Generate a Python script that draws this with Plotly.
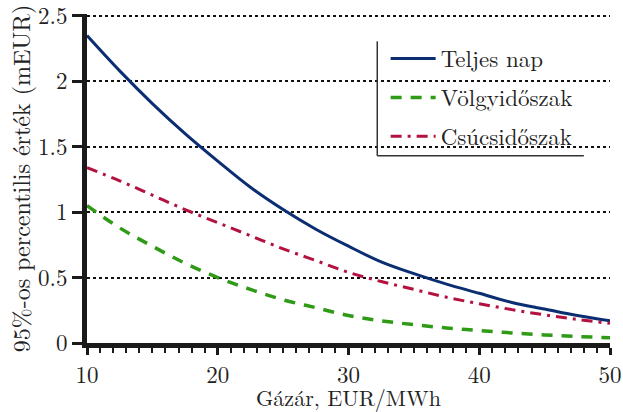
import plotly.graph_objects as go

x_vals = [10, 12.5, 15, 17.5, 20, 22.5, 25, 27.5, 30, 32.5, 35, 37.5, 40, 42.5, 45, 47.5, 50]
teljes_nap = [2.35, 2.08, 1.83, 1.60, 1.39, 1.19, 1.02, 0.87, 0.74, 0.62, 0.53, 0.45, 0.38, 0.31, 0.26, 0.21, 0.17]
volgy = [1.05, 0.88, 0.74, 0.61, 0.50, 0.41, 0.33, 0.27, 0.21, 0.17, 0.14, 0.115, 0.095, 0.077, 0.062, 0.05, 0.04]
csucs = [1.34, 1.24, 1.13, 1.02, 0.92, 0.82, 0.72, 0.63, 0.54, 0.47, 0.41, 0.35, 0.30, 0.255, 0.215, 0.18, 0.15]

names = ["Teljes nap", "Völgyidőszak", "Csúcsidőszak"]
x_ticks = [10, 20, 30, 40, 50]
y_ticks = [0, 0.5, 1, 1.5, 2, 2.5]
y_ticklabels = ["0", "0.5", "1", "1.5", "2", "2.5"]

FONT = "Latin Modern Roman, Liberation Serif, serif"
FS = 23
fig = go.Figure()
fig.add_trace(go.Scatter(x=x_vals, y=teljes_nap, mode="lines", name=names[0], legendgroup="a",
                         line=dict(color="#0b2d72", width=3, shape="spline")))
fig.add_trace(go.Scatter(x=x_vals, y=volgy, mode="lines", name=names[1], legendgroup="b",
                         line=dict(color="#2e9a16", width=3.5, dash="11px,9px", shape="spline")))
fig.add_trace(go.Scatter(x=x_vals, y=csucs, mode="lines", name=names[2], legendgroup="c",
                         line=dict(color="#b3113f", width=3, dash="11px,6px,3px,6px", shape="spline")))

fig.update_layout(
    width=623, height=412,
    margin=dict(l=87, r=13, t=14, b=69, autoexpand=False),
    paper_bgcolor="white", plot_bgcolor="white",
    font=dict(family=FONT, size=FS, color="#222"),
    showlegend=True,
    legend=dict(x=0.571, y=0.93, xanchor="left", yanchor="top",
                bgcolor="rgba(255,255,255,0)", borderwidth=0,
                tracegroupgap=6, itemwidth=45,
                font=dict(family=FONT, size=FS, color="#222")),
    xaxis=dict(range=[10, 50], tickvals=x_ticks, ticks="outside", ticklen=7, tickwidth=3,
               tickcolor="#1a1a1a", showline=True, linewidth=5, linecolor="#1a1a1a",
               showgrid=False, zeroline=False, automargin=False, ticklabeloverflow="allow",
               minor=dict(dtick=1, ticks="outside", ticklen=5, tickwidth=2, tickcolor="#1a1a1a", showgrid=False),
               title=dict(text="Gázár, EUR/MWh", standoff=2, font=dict(family=FONT, size=22)),
               tickfont=dict(family=FONT, size=FS)),
    yaxis=dict(range=[0, 2.515], tickvals=y_ticks, ticktext=y_ticklabels, ticks="outside", ticklen=10,
               tickwidth=3, tickcolor="#1a1a1a", showline=True, linewidth=5, linecolor="#1a1a1a",
               showgrid=True, gridcolor="#111", gridwidth=1.5, griddash="dot", zeroline=False,
               automargin=False, ticklabeloverflow="allow",
               title=dict(text="95%-os percentilis érték (mEUR)", standoff=2, font=dict(family=FONT, size=24)),
               tickfont=dict(family=FONT, size=FS)),
)

# partial legend frame (left and bottom edges)
fig.add_shape(type="line", xref="paper", yref="paper", x0=0.555, x1=0.555, y0=0.569, y1=0.917,
              line=dict(color="#333", width=1.5))
fig.add_shape(type="line", xref="paper", yref="paper", x0=0.555, x1=0.95, y0=0.569, y1=0.569,
              line=dict(color="#333", width=1.5))

fig.write_html("out.html")
